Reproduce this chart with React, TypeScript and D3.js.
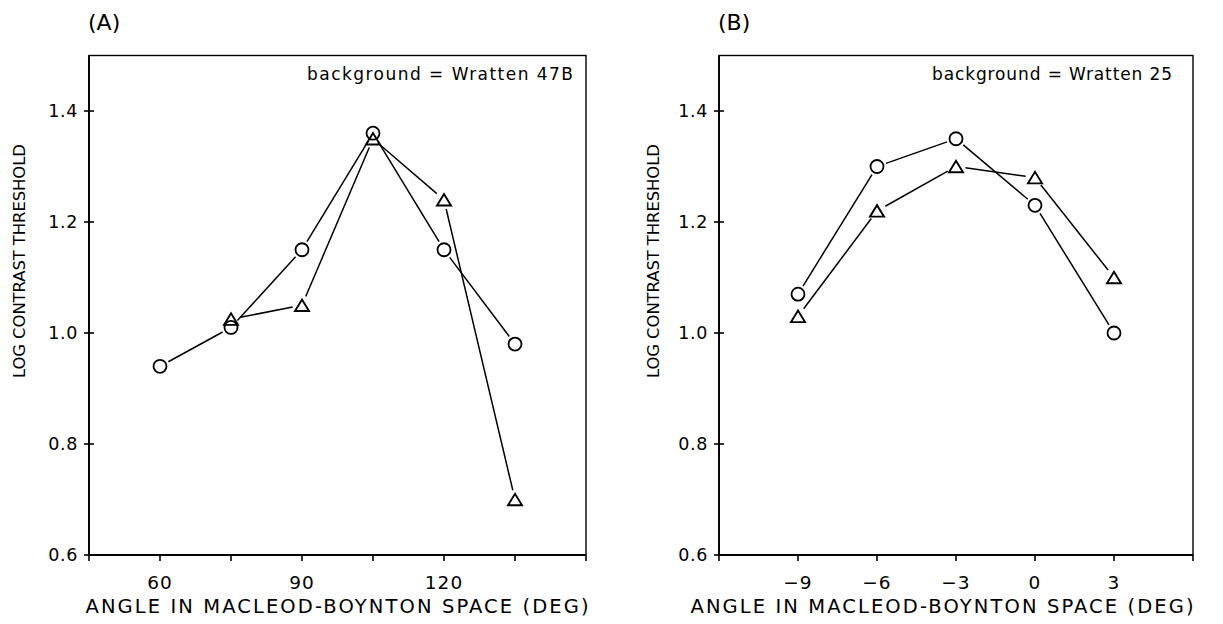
import React from "react";
import * as d3 from "d3";

// ---- data ----
const anglesA = [60, 75, 90, 105, 120, 135];
const circlesA: (number | null)[] = [0.94, 1.01, 1.15, 1.36, 1.15, 0.98];
const trianglesA: (number | null)[] = [null, 1.025, 1.05, 1.35, 1.24, 0.7];

const anglesB = [-9, -6, -3, 0, 3];
const circlesB: (number | null)[] = [1.07, 1.3, 1.35, 1.23, 1.0];
const trianglesB: (number | null)[] = [1.03, 1.22, 1.3, 1.28, 1.1];

const xTicksA = [45, 60, 75, 90, 105, 120, 135, 150];
const xLabelsA = [60, 90, 120];
const xTicksB = [-12, -9, -6, -3, 0, 3, 6];
const xLabelsB = [-9, -6, -3, 0, 3];
const yTicks = [0.6, 0.8, 1.0, 1.2, 1.4];
const yLabels = ["0.6", "0.8", "1.0", "1.2", "1.4"];

const xTitle = "ANGLE IN MACLEOD-BOYNTON SPACE (DEG)";
const yTitle = "LOG CONTRAST THRESHOLD";

const FONT = "'DejaVu Sans', 'Liberation Sans', Arial, sans-serif";

type PanelProps = {
  left: number;
  right: number;
  xDomain: [number, number];
  xTicks: number[];
  xLabels: number[];
  xs: number[];
  circles: (number | null)[];
  triangles: (number | null)[];
  panelLabel: string;
  bgText: string;
  bgRight: number;
  bgLength: number;
  xTitleCenter: number;
  yTitleX: number;
};

const TOP = 55.5;
const BOTTOM = 555;

function segments(pts: [number, number][], shorten: number) {
  const out: [number, number, number, number][] = [];
  for (let i = 0; i < pts.length - 1; i++) {
    const [x1, y1] = pts[i];
    const [x2, y2] = pts[i + 1];
    const dx = x2 - x1, dy = y2 - y1;
    const len = Math.hypot(dx, dy);
    if (len < 2 * shorten) continue;
    const ux = dx / len, uy = dy / len;
    out.push([x1 + ux * shorten, y1 + uy * shorten, x2 - ux * shorten, y2 - uy * shorten]);
  }
  return out;
}

function Panel(p: PanelProps) {
  const x = d3.scaleLinear().domain(p.xDomain).range([p.left, p.right]);
  const y = d3.scaleLinear().domain([0.6, 1.5]).range([BOTTOM, TOP]);

  const cPts: [number, number][] = [];
  p.xs.forEach((v, i) => {
    const c = p.circles[i];
    if (c != null) cPts.push([x(v), y(c)]);
  });
  const tPts: [number, number][] = [];
  p.xs.forEach((v, i) => {
    const t = p.triangles[i];
    if (t != null) tPts.push([x(v), y(t)]);
  });

  const r = 6.5;
  const triPath = (cx: number, cy: number) => {
    const w = 7, h = 11.5;
    return `M${cx - w},${cy + h / 2} L${cx + w},${cy + h / 2} L${cx},${cy - h / 2} Z`;
  };

  return (
    <g>
      {/* panel label */}
      <text x={p.left - 1} y={30} fontSize={22} fontFamily={FONT} fill="#000">
        {p.panelLabel}
      </text>
      {/* frame */}
      <rect
        x={p.left}
        y={TOP}
        width={p.right - p.left}
        height={BOTTOM - TOP}
        fill="none"
        stroke="#000"
        strokeWidth={1.4}
      />
      <line x1={p.left} x2={p.left} y1={TOP} y2={BOTTOM} stroke="#000" strokeWidth={1.8} />
      <line x1={p.left} x2={p.right} y1={BOTTOM} y2={BOTTOM} stroke="#000" strokeWidth={1.8} />
      {/* y ticks */}
      {yTicks.map((t, i) => (
        <g key={"y" + t}>
          <line x1={p.left - 5} x2={p.left + 5} y1={y(t)} y2={y(t)} stroke="#000" strokeWidth={1.6} />
          <text
            x={p.left - 11}
            y={y(t)}
            dy="0.36em"
            textAnchor="end"
            fontSize={17.5}
            letterSpacing={0.6}
            fontFamily={FONT}
            fill="#000"
          >
            {yLabels[i]}
          </text>
        </g>
      ))}
      {/* x ticks */}
      {p.xTicks.map((t) => (
        <line key={"x" + t} x1={x(t)} x2={x(t)} y1={BOTTOM} y2={BOTTOM + 6} stroke="#000" strokeWidth={1.6} />
      ))}
      {p.xLabels.map((t) => (
        <text
          key={"xl" + t}
          x={x(t)}
          y={589}
          textAnchor="middle"
          fontSize={18.5}
          letterSpacing={1}
          fontFamily={FONT}
          fill="#000"
        >
          {t < 0 ? "\u2212" + Math.abs(t) : String(t)}
        </text>
      ))}
      {/* axis titles */}
      <text
        x={p.xTitleCenter}
        y={613}
        textAnchor="middle"
        fontSize={19.5}
        fontFamily={FONT}
        textLength={503}
        lengthAdjust="spacing"
        fill="#000"
      >
        {xTitle}
      </text>
      <text
        transform={`translate(${p.yTitleX},261) rotate(-90)`}
        textAnchor="middle"
        fontSize={16.5}
        fontFamily={FONT}
        textLength={234}
        lengthAdjust="spacing"
        fill="#000"
      >
        {yTitle}
      </text>
      {/* background note */}
      <text
        x={p.bgRight - p.bgLength}
        y={80}
        fontSize={17}
        fontFamily={FONT}
        textLength={p.bgLength}
        lengthAdjust="spacing"
        fill="#000"
      >
        {p.bgText}
      </text>
      {/* lines */}
      {segments(cPts, r + 3).map((s, i) => (
        <line key={"cs" + i} x1={s[0]} y1={s[1]} x2={s[2]} y2={s[3]} stroke="#000" strokeWidth={1.5} />
      ))}
      {segments(tPts, r + 3).map((s, i) => (
        <line key={"ts" + i} x1={s[0]} y1={s[1]} x2={s[2]} y2={s[3]} stroke="#000" strokeWidth={1.5} />
      ))}
      {/* markers */}
      {cPts.map((pt, i) => (
        <circle key={"c" + i} cx={pt[0]} cy={pt[1]} r={r} fill="none" stroke="#000" strokeWidth={1.8} />
      ))}
      {tPts.map((pt, i) => (
        <path key={"t" + i} d={triPath(pt[0], pt[1])} fill="none" stroke="#000" strokeWidth={1.9} strokeLinejoin="miter" />
      ))}
    </g>
  );
}

export default function App() {
  return (
    <svg
      width={1223}
      height={624}
      style={{ position: "absolute", left: 0, top: 0, background: "#fff" }}
    >
      <rect x={0} y={0} width={1223} height={624} fill="#fff" />
      <Panel
        left={89}
        right={586}
        xDomain={[45, 150]}
        xTicks={xTicksA}
        xLabels={xLabelsA}
        xs={anglesA}
        circles={circlesA}
        triangles={trianglesA}
        panelLabel="(A)"
        bgText="background = Wratten 47B"
        bgRight={573}
        bgLength={266}
        xTitleCenter={337}
        yTitleX={25}
      />
      <Panel
        left={719}
        right={1193}
        xDomain={[-12, 6]}
        xTicks={xTicksB}
        xLabels={xLabelsB}
        xs={anglesB}
        circles={circlesB}
        triangles={trianglesB}
        panelLabel="(B)"
        bgText="background = Wratten 25"
        bgRight={1172}
        bgLength={240}
        xTitleCenter={942}
        yTitleX={659}
      />
    </svg>
  );
}
